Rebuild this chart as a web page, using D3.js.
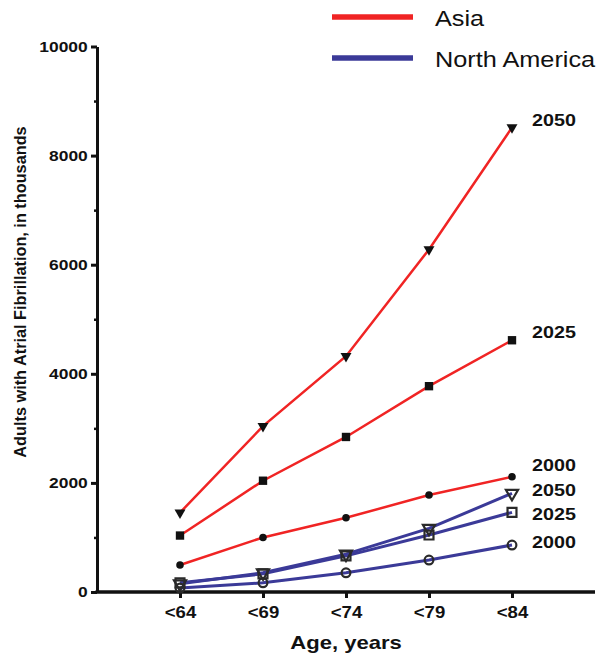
<!DOCTYPE html>
<html>
<head>
<meta charset="utf-8">
<script src="https://cdn.jsdelivr.net/npm/d3@7"></script>
<style>
  html, body { margin: 0; padding: 0; background: #fff; }
  svg { display: block; font-family: "Liberation Sans", Arial, sans-serif; }
</style>
</head>
<body>
<svg id="chart" width="597" height="654"></svg>
<script>
// ---- data ----
const ageGroups = ["<64", "<69", "<74", "<79", "<84"];
const asia2000 = [495, 1000, 1360, 1777, 2112];
const asia2025 = [1035, 2040, 2842, 3773, 4615];
const asia2050 = [1455, 3040, 4322, 6280, 8515];
const na2000 = [72, 168, 352, 586, 861];
const na2025 = [168, 332, 662, 1044, 1460];
const na2050 = [150, 352, 694, 1167, 1808];
const yTickValues = [0, 2000, 4000, 6000, 8000, 10000];
const yMinorTickValues = [1000, 3000, 5000, 7000, 9000];
const regionNames = ["Asia", "North America"];
const yearLabels = ["2000", "2025", "2050"];

// ---- setup ----
const svg = d3.select("#chart");
const SX = 1.16; // horizontal text stretch as in the reference
const RED = "#f02424", BLUE = "#3b3a98";

const x = d3.scalePoint().domain(ageGroups).range([97, 595]).padding(1);
const y = d3.scaleLinear().domain([0, 10000]).range([592, 46.5]);

const series = [
  { region: 0, year: 0, values: asia2000, color: RED, shape: "circle", fill: true, dy: -12 },
  { region: 0, year: 1, values: asia2025, color: RED, shape: "square", fill: true, dy: -8 },
  { region: 0, year: 2, values: asia2050, color: RED, shape: "tri", fill: true, dy: -8 },
  { region: 1, year: 0, values: na2000, color: BLUE, shape: "circle", fill: false, dy: -3 },
  { region: 1, year: 1, values: na2025, color: BLUE, shape: "square", fill: false, dy: 2 },
  { region: 1, year: 2, values: na2050, color: BLUE, shape: "tri", fill: false, dy: -4 }
];

// ---- axes ----
const yAxis = svg.append("g").attr("transform", "translate(97,0)")
  .call(d3.axisLeft(y).tickValues(yTickValues).tickSize(6).tickSizeOuter(0).tickPadding(2)
    .tickFormat(d3.format("d")));
yAxis.select(".domain").attr("stroke", "#111").attr("stroke-width", 3);
yAxis.selectAll(".tick line").attr("stroke", "#111").attr("stroke-width", 3);
yAxis.selectAll(".tick text")
  .attr("font-size", 15).attr("font-weight", "bold").attr("fill", "#111")
  .attr("font-family", "Liberation Sans, Arial, sans-serif")
  .attr("x", -8).attr("transform", `scale(${SX},1)`);

const yMinor = svg.append("g").attr("transform", "translate(97,0)")
  .call(d3.axisLeft(y).tickValues(yMinorTickValues).tickSize(3).tickFormat(""));
yMinor.select(".domain").remove();
yMinor.selectAll(".tick line").attr("stroke", "#111").attr("stroke-width", 2.5);

const xAxis = svg.append("g").attr("transform", "translate(0,592)")
  .call(d3.axisBottom(x).tickSize(6).tickSizeOuter(0));
xAxis.select(".domain").attr("stroke", "#111").attr("stroke-width", 3.5)
  .attr("d", "M95.5,0H595");
xAxis.selectAll(".tick line").attr("stroke", "#111").attr("stroke-width", 3);
xAxis.selectAll(".tick text")
  .attr("font-size", 16).attr("font-weight", "bold").attr("fill", "#111")
  .attr("font-family", "Liberation Sans, Arial, sans-serif")
  .attr("y", 15).attr("x", 0)
  .attr("transform", `scale(${SX},1)`);

// axis titles
svg.append("text")
  .attr("transform", `translate(346,649) scale(${SX},1)`)
  .attr("text-anchor", "middle")
  .attr("font-size", 19).attr("font-weight", "bold").attr("fill", "#111")
  .text("Age, years");

svg.append("text")
  .attr("transform", "translate(26,292) rotate(-90)")
  .attr("text-anchor", "middle")
  .attr("font-size", 16.3).attr("font-weight", "bold").attr("fill", "#111")
  .text("Adults with Atrial Fibrillation, in thousands");

// ---- lines ----
const line = d3.line().x((d, i) => x(ageGroups[i])).y(d => y(d));
svg.append("g").selectAll("path").data(series).join("path")
  .attr("d", s => line(s.values))
  .attr("fill", "none")
  .attr("stroke", s => s.color)
  .attr("stroke-width", s => s.region === 0 ? 2.5 : 3);

// ---- markers ----
const symbolFor = s => s.shape === "circle" ? d3.symbolCircle : s.shape === "square" ? d3.symbolSquare : d3.symbolTriangle;
const sizeFor = s => {
  if (s.fill) return s.shape === "circle" ? 45 : s.shape === "square" ? 70 : 52;
  return s.shape === "circle" ? 60 : s.shape === "square" ? 80 : 64;
};
series.forEach(s => {
  svg.append("g").selectAll("path").data(s.values).join("path")
    .attr("transform", (d, i) => `translate(${x(ageGroups[i])},${y(d)})` + (s.shape === "tri" ? " rotate(180)" : ""))
    .attr("d", d3.symbol().type(symbolFor(s)).size(sizeFor(s)))
    .attr("fill", s.fill ? "#111" : "none")
    .attr("stroke", s.fill ? "none" : "#2a2a2a")
    .attr("stroke-width", 2.2);
});

// ---- end labels ----
svg.append("g").selectAll("text").data(series).join("text")
  .attr("transform", s => `translate(532,${y(s.values[4]) + s.dy}) scale(${SX},1)`)
  .attr("dy", "0.36em")
  .attr("font-size", 17).attr("font-weight", "bold").attr("fill", "#111")
  .text(s => yearLabels[s.year]);

// ---- legend ----
const legend = svg.append("g");
const legendColors = [RED, BLUE];
const legendY = [17, 58];
regionNames.forEach((name, i) => {
  legend.append("line")
    .attr("x1", 332).attr("x2", 413).attr("y1", legendY[i]).attr("y2", legendY[i])
    .attr("stroke", legendColors[i]).attr("stroke-width", 5.5);
  legend.append("text")
    .attr("transform", `translate(435,${legendY[i] + 9}) scale(${SX},1)`)
    .attr("font-size", 21.8).attr("fill", "#111")
    .text(name);
});
</script>
</body>
</html>
